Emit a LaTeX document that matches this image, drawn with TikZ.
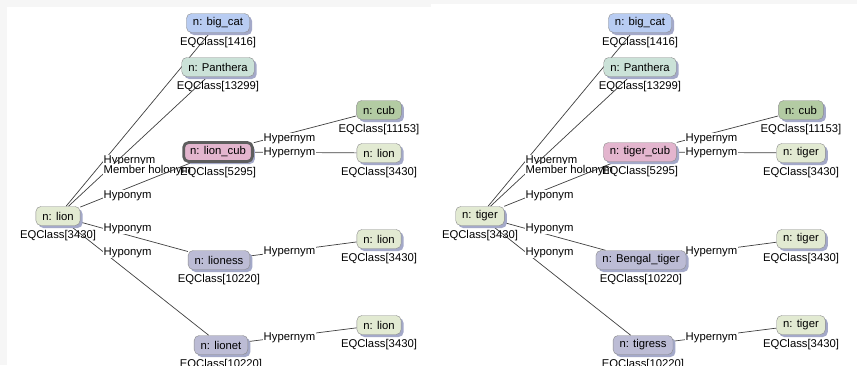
\documentclass[tikz,border=0pt]{standalone}
\usepackage{fontspec}
\setmainfont{Liberation Sans}
\usetikzlibrary{positioning,shadows,backgrounds}

\definecolor{bigcatblue}{HTML}{B8CCF2}
\definecolor{pantheragreen}{HTML}{CBE2D8}
\definecolor{cubpink}{HTML}{E3B5CE}
\definecolor{cubgreen}{HTML}{B3CBA3}
\definecolor{lionpale}{HTML}{E2EAD2}
\definecolor{lionesslilac}{HTML}{BCBCD5}
\definecolor{shadowblue}{HTML}{A4A9C9}
\definecolor{boxgray}{HTML}{8A8A8A}
\definecolor{pickgray}{HTML}{5E5E5E}
\definecolor{panelgray}{HTML}{F6F6F6}

\begin{document}
\begin{tikzpicture}[
    x=1pt, y=-1pt,
    font=\fontsize{11.3}{13}\selectfont,
    word/.style={draw=boxgray, rounded corners=5pt, minimum height=19pt,
      inner xsep=6.5pt, inner ysep=0pt,
      drop shadow={shadow xshift=2.5pt, shadow yshift=-2.5pt,
        fill=shadowblue, opacity=1}},
    eq/.style={inner sep=0pt, below=4.5pt},
    rel/.style={fill=white, inner sep=0.5pt, anchor=base west},
    link/.style={draw=black!75, line width=0.7pt}
  ]
  \useasboundingbox (0,0) rectangle (857,365);
  \begin{pgfonlayer}{background}
    \fill[panelgray] (0,0) rectangle (857,365);
    \fill[white] (7,7) rectangle (431,365);
    \fill[white] (431,4) rectangle (857,365);
  \end{pgfonlayer}

  % one panel per word: lion, tiger
  \foreach \p/\dx/\a/\c/\f/\g/\lw/\bc in {
      l/0/lion/lion\_cub/lioness/lionet/2.8pt/pickgray,
      r/422/tiger/tiger\_cub/Bengal\_tiger/tigress/0.4pt/boxgray}
  {
    \begin{scope}[shift={(\dx,0)}]
      \node[word, fill=bigcatblue] (\p-bigcat) at (218,23) {n: big\_cat};
      \node[eq] (\p-bigcat-eq) at (\p-bigcat.south) {EQClass[1416]};
      \node[word, fill=pantheragreen] (\p-panthera) at (218,67) {n: Panthera};
      \node[eq] (\p-panthera-eq) at (\p-panthera.south) {EQClass[13299]};
      \node[word, fill=cubpink, draw=\bc, line width=\lw] (\p-young) at (218,152) {n: \c};
      \node[eq] (\p-young-eq) at (\p-young.south) {EQClass[5295]};
      \node[word, fill=cubgreen] (\p-cub) at (379,110) {n: cub};
      \node[eq] (\p-cub-eq) at (\p-cub.south) {EQClass[11153]};
      \node[word, fill=lionpale] (\p-top) at (379,153) {n: \a};
      \node[eq] (\p-top-eq) at (\p-top.south) {EQClass[3430]};
      \node[word, fill=lionpale] (\p-main) at (58,216) {n: \a};
      \node[eq] (\p-main-eq) at (\p-main.south) {EQClass[3430]};
      \node[word, fill=lionesslilac] (\p-female) at (219,260) {n: \f};
      \node[eq] (\p-female-eq) at (\p-female.south) {EQClass[10220]};
      \node[word, fill=lionpale] (\p-mid) at (379,239) {n: \a};
      \node[eq] (\p-mid-eq) at (\p-mid.south) {EQClass[3430]};
      \node[word, fill=lionesslilac] (\p-other) at (221,345) {n: \g};
      \node[eq] (\p-other-eq) at (\p-other.south) {EQClass[10220]};
      \node[word, fill=lionpale] (\p-low) at (379,325) {n: \a};
      \node[eq] (\p-low-eq) at (\p-low.south) {EQClass[3430]};

      \begin{pgfonlayer}{background}
        \draw[link] (\p-main) -- (\p-bigcat);
        \node[rel] (\p-rel-a) at (103,163) {Hypernym};
        \draw[link] (\p-main) -- (\p-panthera);
        \node[rel] (\p-rel-b) at (103,173) {Member holonym};
        \draw[link] (\p-main) -- (\p-young);
        \node[rel] (\p-rel-c) at (103,198) {Hyponym};
        \draw[link] (\p-main) -- (\p-female);
        \node[rel] (\p-rel-d) at (103,231) {Hyponym};
        \draw[link] (\p-main) -- (\p-other);
        \node[rel] (\p-rel-e) at (103,255) {Hyponym};
        \draw[link] (\p-young) -- (\p-cub);
        \node[rel] (\p-rel-f) at (263,141) {Hypernym};
        \draw[link] (\p-young) -- (\p-top);
        \node[rel] (\p-rel-g) at (263,155) {Hypernym};
        \draw[link] (\p-female) -- (\p-mid);
        \node[rel] (\p-rel-h) at (263,254) {Hypernym};
        \draw[link] (\p-other) -- (\p-low);
        \node[rel] (\p-rel-i) at (263,340) {Hypernym};
      \end{pgfonlayer}
    \end{scope}
  }
\end{tikzpicture}
\end{document}
